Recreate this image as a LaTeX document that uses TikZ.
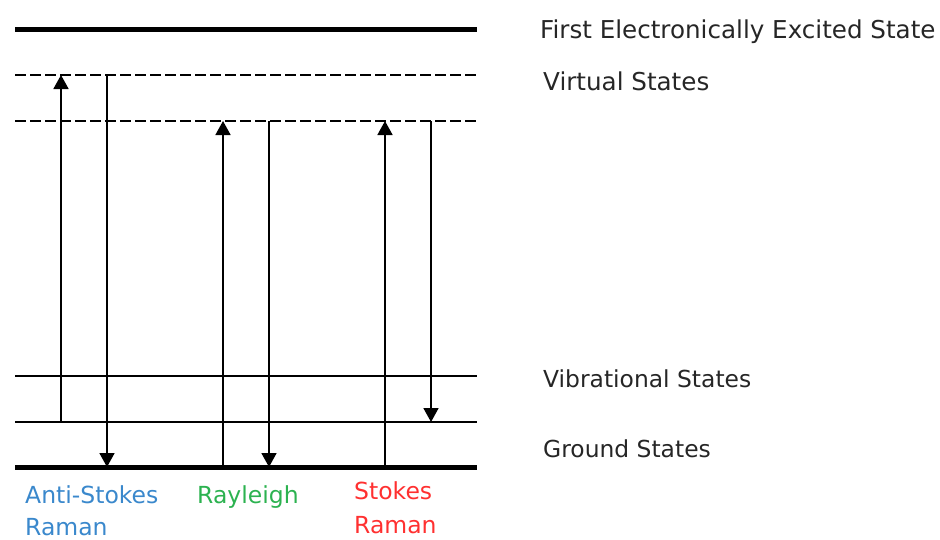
\documentclass[tikz,border=0pt]{standalone}
\usepackage{fontspec}
\setmainfont{DejaVu Sans}
\usetikzlibrary{arrows.meta}
\definecolor{asblue}{RGB}{58,136,204}
\definecolor{rlgreen}{RGB}{44,178,80}
\definecolor{stred}{RGB}{255,48,48}
\tikzset{
  thicklevel/.style={line width=5pt},
  thinlevel/.style={line width=1.7pt},
  virtlevel/.style={line width=1.7pt, dash pattern=on 11pt off 4pt},
  trans/.style={line width=1.7pt, -{Triangle[width=15pt,length=14pt]}},
  lbl/.style={anchor=base west, inner sep=0pt, font=\fontsize{24.6}{28}\selectfont, text=black!85},
  lbls/.style={lbl, font=\fontsize{23.4}{28}\selectfont},
  blbl/.style={anchor=base west, inner sep=0pt, font=\fontsize{23.5}{28}\selectfont}
}
\begin{document}
\begin{tikzpicture}[x=1pt,y=-1pt]
\useasboundingbox (0,0) rectangle (940,539);
% level end points
\coordinate (E1l) at (15,29);  \coordinate (E1r) at (477,29);
\coordinate (V1l) at (15,75);  \coordinate (V1r) at (477,75);
\coordinate (V2l) at (15,121); \coordinate (V2r) at (477,121);
\coordinate (Vbl) at (15,376); \coordinate (Vbr) at (477,376);
\coordinate (G1l) at (15,422); \coordinate (G1r) at (477,422);
\coordinate (G0l) at (15,467); \coordinate (G0r) at (477,467);
% levels
\draw[thicklevel] (E1l) -- (E1r);
\draw[virtlevel] (V1l) -- (V1r);
\draw[virtlevel] (V2l) -- (V2r);
\draw[thinlevel] (Vbl) -- (Vbr);
\draw[thinlevel] (G1l) -- (G1r);
\draw[thicklevel] (G0l) -- (G0r);
% transition end points
\coordinate (a1s) at (61,422);  \coordinate (a1e) at (61,75);
\coordinate (a2s) at (107,75);  \coordinate (a2e) at (107,467);
\coordinate (r1s) at (223,467); \coordinate (r1e) at (223,121);
\coordinate (r2s) at (269,121); \coordinate (r2e) at (269,467);
\coordinate (s1s) at (385,467); \coordinate (s1e) at (385,121);
\coordinate (s2s) at (431,121); \coordinate (s2e) at (431,422);
% transitions
\draw[trans] (a1s) -- (a1e);
\draw[trans] (a2s) -- (a2e);
\draw[trans] (r1s) -- (r1e);
\draw[trans] (r2s) -- (r2e);
\draw[trans] (s1s) -- (s1e);
\draw[trans] (s2s) -- (s2e);
% state labels
\node[lbl] (tE1) at (540,38) {First Electronically Excited State};
\node[lbl] (tV) at (543,90) {Virtual States};
\node[lbls] (tVb) at (543,387) {Vibrational States};
\node[lbls] (tG) at (543,457) {Ground States};
% process labels
\node[blbl, text=asblue] (as1) at (25,503) {Anti-Stokes};
\node[blbl, text=asblue] (as2) at (25,535) {Raman};
\node[blbl, text=rlgreen] (rl) at (197,503) {Rayleigh};
\node[blbl, text=stred] (st1) at (354,499) {Stokes};
\node[blbl, text=stred] (st2) at (354,533) {Raman};
\end{tikzpicture}
\end{document}
